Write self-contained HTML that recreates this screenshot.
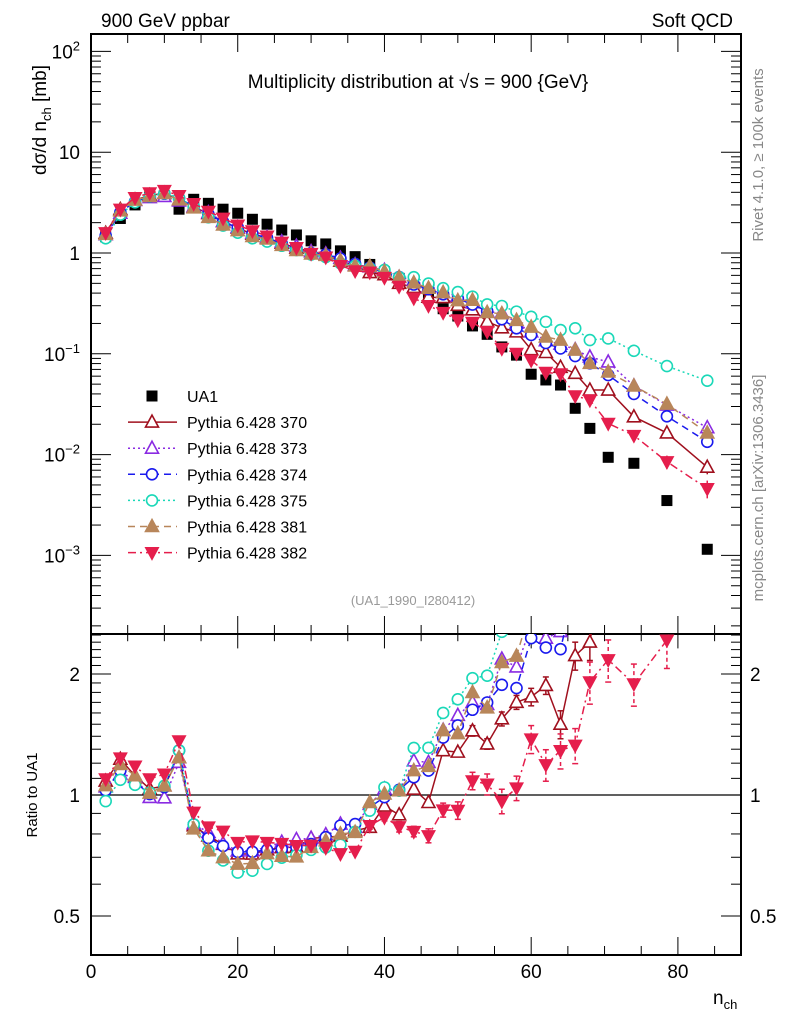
<!DOCTYPE html>
<html><head><meta charset="utf-8"><style>
body{margin:0;background:#fff;}
svg{display:block;font-family:"Liberation Sans",sans-serif;}
</style></head><body>
<svg id="chart" width="786" height="1024" viewBox="0 0 786 1024" xmlns="http://www.w3.org/2000/svg">
<rect width="786" height="1024" fill="#fff"/>
<text x="101" y="27" font-size="19">900 GeV ppbar</text>
<text x="733" y="27" font-size="19" text-anchor="end">Soft QCD</text>
<text x="418" y="88" font-size="19" text-anchor="middle">Multiplicity distribution at √s = 900 {GeV}</text>
<text transform="translate(46,120) rotate(-90)" font-size="19" text-anchor="middle">dσ/d n<tspan font-size="13" dy="5">ch</tspan><tspan dy="-5"> [mb]</tspan></text>
<text transform="translate(37,795) rotate(-90)" font-size="15" text-anchor="middle">Ratio to UA1</text>
<text transform="translate(763,155) rotate(-90)" font-size="15" fill="#888" text-anchor="middle">Rivet 4.1.0, ≥ 100k events</text>
<text transform="translate(763,488) rotate(-90)" font-size="15" fill="#888" text-anchor="middle">mcplots.cern.ch [arXiv:1306.3436]</text>
<text x="413" y="605" font-size="13" fill="#999" text-anchor="middle">(UA1_1990_I280412)</text>
<text x="713" y="1004" font-size="19">n<tspan font-size="13" dy="5">ch</tspan></text>
<g id="plots"></g>
</svg>
<script>
const nch = [2,4,6,8,10,12,14,16,18,20,22,24,26,28,30,32,34,36,38,40,42,44,46,48,50,52,54,56,58,60,62,64,66,68,70.5,74,78.5,84];
const ua1 = [1.45,2.2,3.0,3.6,3.7,2.72,3.41,3.11,2.72,2.48,2.16,1.93,1.69,1.51,1.32,1.23,1.05,0.92,0.77,0.65,0.56,0.44,0.38,0.28,0.237,0.189,0.156,0.117,0.097,0.0627,0.055,0.049,0.0288,0.0182,0.0094,0.0082,0.0035,0.00115];
const p370 = [1.57,2.7,3.35,3.73,3.9,3.37,2.86,2.46,2.05,1.77,1.54,1.41,1.25,1.12,1.03,0.965,0.83,0.75,0.64,0.61,0.50,0.455,0.364,0.361,0.303,0.273,0.209,0.181,0.165,0.110,0.103,0.0735,0.064,0.0437,0.0437,0.0237,0.0164,0.0075];
const p373 = [1.52,2.48,3.32,3.55,3.64,3.28,2.89,2.51,2.06,1.80,1.57,1.43,1.29,1.17,1.03,0.98,0.889,0.765,0.73,0.673,0.574,0.535,0.458,0.406,0.374,0.321,0.262,0.255,0.202,0.165,0.135,0.125,0.11,0.093,0.083,0.048,0.031,0.0185];
const p374 = [1.49,2.53,3.23,3.62,3.87,3.51,2.88,2.43,2.03,1.79,1.56,1.41,1.24,1.12,0.997,0.966,0.881,0.779,0.718,0.642,0.577,0.487,0.437,0.389,0.353,0.308,0.265,0.22,0.179,0.154,0.128,0.113,0.095,0.0805,0.0616,0.040,0.024,0.0134];
const p375 = [1.40,2.40,3.18,3.65,3.9,3.51,2.88,2.26,1.87,1.59,1.40,1.30,1.18,1.07,0.964,0.911,0.79,0.745,0.704,0.679,0.574,0.576,0.498,0.448,0.41,0.369,0.309,0.298,0.262,0.233,0.208,0.172,0.179,0.137,0.142,0.107,0.0755,0.0541];
const p381 = [1.53,2.62,3.35,3.64,3.9,3.37,2.81,2.26,1.90,1.67,1.46,1.38,1.19,1.06,0.978,0.947,0.84,0.743,0.738,0.654,0.574,0.506,0.448,0.405,0.337,0.34,0.257,0.25,0.215,0.184,0.147,0.137,0.109,0.0805,0.066,0.048,0.0317,0.0164];
const p382 = [1.59,2.72,3.54,3.95,4.17,3.71,3.09,2.59,2.21,1.89,1.66,1.47,1.28,1.13,0.99,0.91,0.75,0.666,0.646,0.572,0.467,0.357,0.301,0.257,0.217,0.205,0.166,0.113,0.101,0.0864,0.0654,0.0632,0.0383,0.0348,0.0204,0.0155,0.0085,0.0046];
const err370 = [0,0,0,0,0,0,0,0,0,0,0,0,0,0,0,0,0,0,0,0,0,0,0,0,0,0.03,0.03,0.04,0.04,0.05,0.05,0.08,0.08,0.1,0.1,0.1,0.12,0.15];
const err382 = [0,0,0,0,0,0,0,0,0,0,0,0,0,0,0,0,0,0,0.02,0.02,0.03,0.03,0.04,0.04,0.05,0.05,0.06,0.07,0.07,0.08,0.09,0.1,0.1,0.12,0.12,0.12,0.15,0.2];
const mainTicks = [2,1,0,-1,-2,-3];
const mainTickLabels = ["10²","10","1","10⁻¹","10⁻²","10⁻³"];
const ratioTicks = [2,1,0.5];
const ratioTickLabels = ["2","1","0.5"];
const xTicks = [0,20,40,60,80];

const NS="http://www.w3.org/2000/svg";
const L=91,R=741,MT=34,MB=634,RB=955;
const X=v=>L+v*(R-L)/88.6;
const Y=v=>253-Math.log10(v)*100.8;
const YR=v=>795-Math.log2(v)*121;
const g=document.getElementById('plots');
function mk(tag,at,parent){const e=document.createElementNS(NS,tag);for(const k in at)e.setAttribute(k,at[k]);(parent||g).appendChild(e);return e;}

const defs=mk('defs',{});
const c1=mk('clipPath',{id:'cm'},defs);mk('rect',{x:L,y:MT,width:R-L,height:MB-MT},c1);
const c2=mk('clipPath',{id:'cr'},defs);mk('rect',{x:L,y:MB,width:R-L,height:RB-MB},c2);

let fr=mk('rect',{x:L,y:MT,width:R-L,height:MB-MT,fill:'none',stroke:'#000','stroke-width':2});


fr=mk('rect',{x:L,y:MB,width:R-L,height:RB-MB,fill:'none',stroke:'#000','stroke-width':2});



for(let v=0;v<=88;v+=5){const big=v%20===0;const len=big?18:9;
 for(const [yy,dir] of [[MT,1],[MB,-1],[MB,1],[RB,-1]]){mk('line',{x1:X(v),x2:X(v),y1:yy,y2:yy+dir*(dir>0&&yy===MB?len*0.8:len),stroke:'#000','stroke-width':1});}}
xTicks.forEach(v=>{const t=mk('text',{x:X(v),y:978,'font-size':19,'text-anchor':'middle'});t.textContent=v;
 
 });

for(let d=-4;d<=2;d++){for(let m=1;m<10;m++){const v=m*Math.pow(10,d);const y=Y(v);if(y<MT||y>MB)continue;const len=m===1?20:10;
 mk('line',{x1:L,x2:L+len,y1:y,y2:y,stroke:'#000'});mk('line',{x1:R,x2:R-len,y1:y,y2:y,stroke:'#000'});}}
mainTicks.forEach((p,i)=>{const y=Y(Math.pow(10,p));const s=mainTickLabels[i];
 const t=mk('text',{x:80,y:y+7,'font-size':19,'text-anchor':'end'});
 
 
 const m=s.match(/^(10)([⁻¹²³]*)$/);
 if(m&&m[2]){t.textContent='10';const sp=mk('tspan',{dy:-8,'font-size':13},t);sp.textContent=m[2].replace('⁻','−').replace('¹','1').replace('²','2').replace('³','3');}
 else t.textContent=s;});

for(let v=0.4;v<2.6;v+=0.1){const y=YR(v);if(y<MB||y>RB)continue;const major=Math.abs(v-0.5)<1e-6||Math.abs(v-1)<1e-6||Math.abs(v-2)<1e-6;const len=major?20:10;
 mk('line',{x1:L,x2:L+len,y1:y,y2:y,stroke:'#000'});mk('line',{x1:R,x2:R-len,y1:y,y2:y,stroke:'#000'});}
ratioTicks.forEach((v,i)=>{for(const [xx,an] of [[80,'end'],[750,'start']]){const t=mk('text',{x:xx,y:YR(v)+7,'font-size':19,'text-anchor':an});t.textContent=ratioTickLabels[i];
 
 }});
let ul=mk('line',{x1:L,x2:R,y1:YR(1),y2:YR(1),stroke:'#000','stroke-width':1.3});



function marker(par,type,color,x,y){
 if(type==='sq')return mk('rect',{x:x-5.5,y:y-5.5,width:11,height:11,fill:'#000'},par);
 if(type==='up'||type==='upf')return mk('path',{d:`M${x},${y-7}L${x+6.5},${y+5}L${x-6.5},${y+5}Z`,fill:type==='upf'?color:'#fff',stroke:color,'stroke-width':1.6},par);
 if(type==='dn')return mk('path',{d:`M${x},${y+7}L${x+6.5},${y-5}L${x-6.5},${y-5}Z`,fill:color,stroke:color,'stroke-width':1.2},par);
 if(type==='ci')return mk('circle',{cx:x,cy:y,r:5.5,fill:'#fff',stroke:color,'stroke-width':1.6},par);
}
const series=[
 {name:'370',vals:p370,err:err370,color:'#a0101e',dash:'',m:'up'},
 {name:'373',vals:p373,err:null,color:'#8a2be2',dash:'2,3',m:'up'},
 {name:'374',vals:p374,err:null,color:'#1a1aee',dash:'7,5',m:'ci'},
 {name:'375',vals:p375,err:null,color:'#1ad8b8',dash:'2,3',m:'ci'},
 {name:'381',vals:p381,err:null,color:'#b8865a',dash:'7,5',m:'upf'},
 {name:'382',vals:p382,err:err382,color:'#e51e4c',dash:'8,4,2,4',m:'dn'}
];
const gm=mk('g',{'clip-path':'url(#cm)'});


const gr=mk('g',{'clip-path':'url(#cr)'});



nch.forEach((n,i)=>{const e=marker(gm,'sq','#000',X(n),Y(ua1[i]));
 
 });

series.forEach(s=>{
 const sg=mk('g',{},gm);
 
 
 const pts=nch.map((n,i)=>X(n)+','+Y(s.vals[i])).join(' ');
 mk('polyline',{points:pts,fill:'none',stroke:s.color,'stroke-width':1.5,'stroke-dasharray':s.dash},sg);
 nch.forEach((n,i)=>{
  if(s.err&&s.err[i]){mk('line',{x1:X(n),x2:X(n),y1:Y(s.vals[i]*(1+s.err[i])),y2:Y(s.vals[i]*(1-s.err[i])),stroke:s.color,'stroke-width':1.5},sg);}
  const e=marker(sg,s.m,s.color,X(n),Y(s.vals[i]));
  
  });
 const rg=mk('g',{},gr);
 
 
 const rp=nch.map((n,i)=>X(n)+','+YR(s.vals[i]/ua1[i])).join(' ');
 mk('polyline',{points:rp,fill:'none',stroke:s.color,'stroke-width':1.5,'stroke-dasharray':s.dash},rg);
 nch.forEach((n,i)=>{const r=s.vals[i]/ua1[i];
  if(s.err&&s.err[i]){const y1=YR(r*(1+s.err[i])),y2=YR(r*(1-s.err[i]));
   mk('line',{x1:X(n),x2:X(n),y1:y1,y2:y2,stroke:s.color,'stroke-width':1.5,'stroke-dasharray':s.dash?'4,3':''},rg);
   mk('line',{x1:X(n)-3,x2:X(n)+3,y1:y1,y2:y1,stroke:s.color,'stroke-width':1.5},rg);
   mk('line',{x1:X(n)-3,x2:X(n)+3,y1:y2,y2:y2,stroke:s.color,'stroke-width':1.5},rg);}
  const e=marker(rg,s.m,s.color,X(n),YR(r));
  
  });
});

const lg=mk('g',{});


const ly0=396,ldy=26.1;
marker(lg,'sq','#000',152,ly0);
let t=mk('text',{x:187,y:ly0+6,'font-size':16},lg);t.textContent='UA1';


series.forEach((s,i)=>{const y=ly0+ldy*(i+1);
 mk('line',{x1:128,x2:177,y1:y,y2:y,stroke:s.color,'stroke-width':1.5,'stroke-dasharray':s.dash},lg);
 marker(lg,s.m,s.color,152,y);
 const tt=mk('text',{x:187,y:y+6,'font-size':16},lg);tt.textContent='Pythia 6.428 '+s.name;
 
 });
</script>
</body></html>
